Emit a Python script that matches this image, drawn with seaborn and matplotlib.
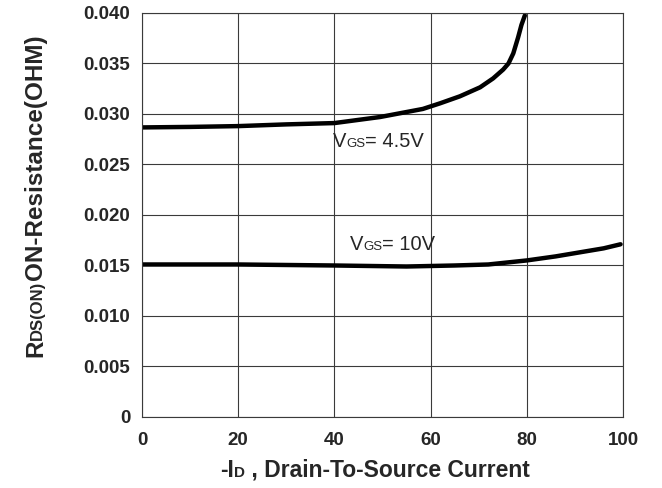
import numpy as np
import pandas as pd
import seaborn as sns
import matplotlib
matplotlib.use("Agg")
import matplotlib.pyplot as plt

# data
id_45 = [0, 10, 20, 30, 40, 49.5, 58.4, 62, 66.1, 70.3, 73.0, 75.1, 76.2,
         77.2, 78.2, 78.9, 79.6]
r_45 = [0.02867, 0.02872, 0.0288, 0.02897, 0.0291, 0.0297, 0.0305, 0.03106,
        0.03175, 0.03264, 0.03352, 0.0344, 0.0350, 0.0360, 0.03758, 0.03882,
        0.03975]
id_10 = [0, 20, 40, 55, 65, 72, 80, 86, 91, 96, 99.5]
r_10 = [0.0151, 0.0151, 0.0150, 0.0149, 0.0150, 0.0151, 0.0155, 0.0159,
        0.0163, 0.0167, 0.0171]
x_ticks = [0, 20, 40, 60, 80, 100]
y_ticks = [0, 0.005, 0.010, 0.015, 0.020, 0.025, 0.030, 0.035, 0.040]
y_labels = ["0", "0.005", "0.010", "0.015", "0.020", "0.025", "0.030", "0.035", "0.040"]

sns.set_style("white")
plt.rcParams['font.family'] = ['Liberation Sans', 'DejaVu Sans']

df45 = pd.DataFrame({"Id": id_45, "R": r_45})
df10 = pd.DataFrame({"Id": id_10, "R": r_10})

fig, ax = plt.subplots(figsize=(6.62, 4.88), dpi=100)
fig.subplots_adjust(left=0.2145, right=0.941, bottom=0.1455, top=0.9734)

sns.lineplot(data=df45, x="Id", y="R", ax=ax, color="black", lw=3.2,
             sort=False, estimator=None, solid_capstyle="round",
             solid_joinstyle="round")
sns.lineplot(data=df10, x="Id", y="R", ax=ax, color="black", lw=3.2,
             sort=False, estimator=None, solid_capstyle="round",
             solid_joinstyle="round")

ax.set_xlim(0, 100)
ax.set_ylim(0, 0.04)
ax.set_xticks(x_ticks)
ax.set_xticklabels([str(v) for v in x_ticks], fontweight="bold", fontsize=13.5)
ax.set_yticks(y_ticks)
ax.set_yticklabels(y_labels, fontweight="bold", fontsize=13.5)
ax.tick_params(axis="x", length=0, pad=10.5)
ax.tick_params(axis="y", length=0, pad=8.5)
ax.grid(True, color="#3a3a3a", lw=0.8)
for s in ax.spines.values():
    s.set_color("#3a3a3a")
    s.set_linewidth(0.8)
ax.set_xlabel("")
ax.set_ylabel("")

W = fig.get_figwidth() * fig.dpi
H = fig.get_figheight() * fig.dpi
fig.canvas.draw()
rend = fig.canvas.get_renderer()


def chain(x0, y0, pieces, rotation=0):
    # pieces laid one after another, small ones sit on the same baseline
    for s, size, weight in pieces:
        t = fig.text(x0 / W, y0 / H, s, fontsize=size, fontweight=weight,
                     rotation=rotation, rotation_mode="anchor",
                     ha="left", va="baseline")
        bb = t.get_window_extent(rend)
        if rotation == 0:
            x0 += bb.width
        else:
            y0 += bb.height


# axis titles
chain(220, H - 477, [("-I", 16.5, "bold"), ("D", 11, "bold"),
                     (" , Drain-To-Source Current", 16.5, "bold")])
chain(42, H - 357, [("R", 17.5, "bold"), ("DS(ON)", 12, "bold"),
                    ("ON-Resistance(OHM)", 17.5, "bold")], rotation=90)

# curve labels
px, py = ax.transData.transform((39.7, 0.02673))
chain(px, py, [("V", 14.5, "normal"), ("GS", 9.5, "normal"), ("= 4.5V", 14.5, "normal")])
px, py = ax.transData.transform((43.2, 0.01653))
chain(px, py, [("V", 14.5, "normal"), ("GS", 9.5, "normal"), ("= 10V", 14.5, "normal")])

fig.savefig("out.png", dpi=100)
